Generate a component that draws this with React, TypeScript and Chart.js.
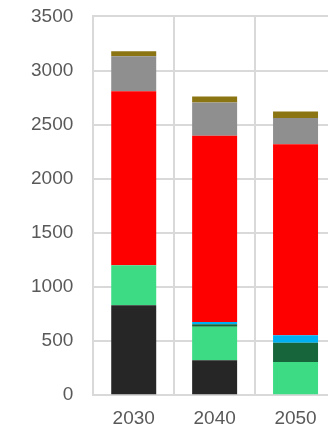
import React, { useEffect, useRef } from "react";
import { Chart, registerables } from "chart.js";

Chart.register(...registerables);

const categories = ["2030", "2040", "2050"];
const blackSeries = [830, 324, 0];
const greenSeries = [370, 308, 306];
const darkGreenSeries = [0, 23, 178];
const blueSeries = [0, 21, 69];
const redSeries = [1608, 1722, 1765];
const graySeries = [324, 306, 244];
const oliveSeries = [47, 55, 59];
const yTicks = [0, 500, 1000, 1500, 2000, 2500, 3000, 3500];

export default function App() {
  const ref = useRef<HTMLCanvasElement | null>(null);
  useEffect(() => {
    if (!ref.current) return;
    const mk = (label: string, data: number[], color: string) => ({
      label,
      data,
      backgroundColor: color,
      borderWidth: 0,
      categoryPercentage: 1,
      barPercentage: 0.556,
    });
    const chart = new Chart(ref.current, {
      type: "bar",
      data: {
        labels: categories,
        datasets: [
          mk("A", blackSeries, "#262626"),
          mk("B", greenSeries, "#3ddc84"),
          mk("C", darkGreenSeries, "#17663b"),
          mk("D", blueSeries, "#00b0f0"),
          mk("E", redSeries, "#ff0000"),
          mk("F", graySeries, "#8f8f8f"),
          mk("G", oliveSeries, "#8b7513"),
        ],
      },
      options: {
        animation: false,
        responsive: true,
        maintainAspectRatio: false,
        layout: { padding: { left: 11, right: 4, top: 5, bottom: 2 } },
        plugins: { legend: { display: false }, tooltip: { enabled: false } },
        scales: {
          x: {
            stacked: true,
            grid: { color: "#d9d9d9", lineWidth: 2, drawTicks: false },
            border: { color: "#d9d9d9", width: 2 },
            ticks: {
              color: "#595959",
              padding: 12,
              font: { family: "'Liberation Sans', Arial, sans-serif", size: 19 },
            },
          },
          y: {
            stacked: true,
            min: 0,
            max: 3500,
            afterBuildTicks: (axis: any) => {
              axis.ticks = yTicks.map((v) => ({ value: v }));
            },
            grid: { color: "#d9d9d9", lineWidth: 2, drawTicks: false },
            border: { color: "#d9d9d9", width: 2 },
            ticks: {
              color: "#595959",
              padding: 20,
              callback: (v: any) => String(v),
              font: { family: "'Liberation Sans', Arial, sans-serif", size: 19 },
            },
          },
        },
      },
    });
    return () => chart.destroy();
  }, []);
  return (
    <div
      style={{
        position: "fixed",
        left: 0,
        top: 0,
        width: 328,
        height: 431,
        overflow: "hidden",
        background: "#fff",
      }}
    >
      <div style={{ position: "absolute", left: 0, top: -15, width: 340, height: 459 }}>
        <canvas ref={ref} />
      </div>
    </div>
  );
}
